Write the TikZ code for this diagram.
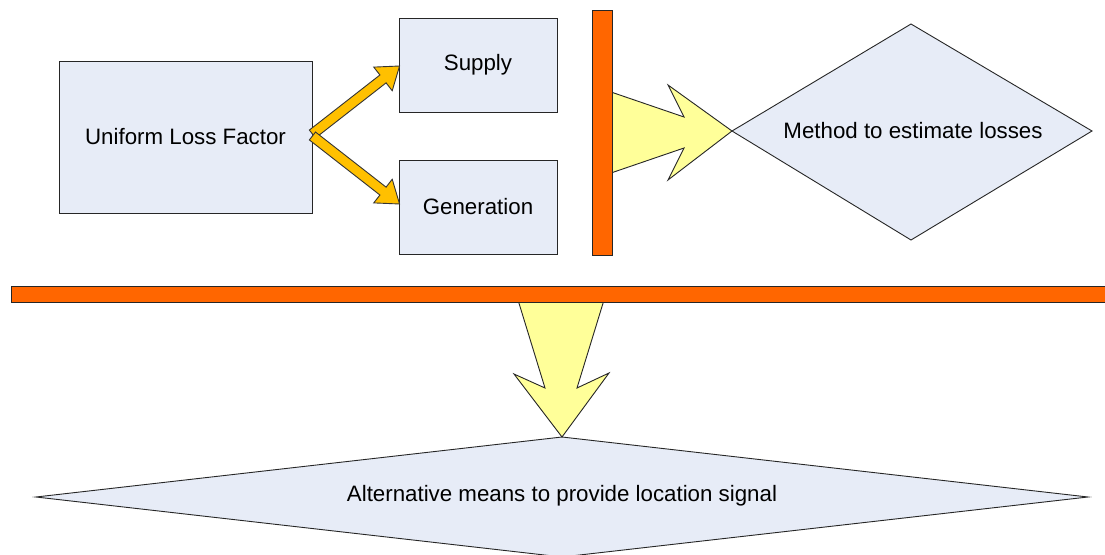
\documentclass[tikz,border=0pt]{standalone}
\usepackage{fontspec}
\setmainfont{Liberation Sans}
\usetikzlibrary{calc}
\definecolor{boxfill}{RGB}{231,236,247}
\definecolor{barorange}{RGB}{255,102,0}
\definecolor{lightyellow}{RGB}{255,255,153}
\definecolor{goldarrow}{RGB}{255,192,0}
\tikzset{
  box/.style={draw=black!85, line width=0.9pt, fill=boxfill, inner sep=0pt, font=\fontsize{22.3}{26}\selectfont},
  bar/.style={draw=black!85, line width=0.9pt, fill=barorange, inner sep=0pt},
  bigarrow/.style={draw=black!85, line width=0.9pt, fill=lightyellow, line join=miter},
  smallarrow/.style={draw=black!80, line width=0.9pt, fill=goldarrow, line join=miter},
  lbl/.style={font=\fontsize{22.3}{26}\selectfont, inner sep=0pt},
}
\newcommand{\fatarrow}[5]{%
  \coordinate (fatH) at ($(#2)!#5!(#1)$);
  \path[smallarrow] ($(#1)!#3!90:(#2)$) -- ($(fatH)!#3!90:(#2)$) -- ($(fatH)!#4!90:(#2)$)
    -- (#2) -- ($(fatH)!#4!-90:(#2)$) -- ($(fatH)!#3!-90:(#2)$) -- ($(#1)!#3!-90:(#2)$) -- cycle;
}
\begin{document}
\begin{tikzpicture}[x=1pt,y=-1pt]
\clip (0,0) rectangle (1105,554);
\fill[white] (0,0) rectangle (1105,554);

% boxes
\node[box, minimum width=253pt, minimum height=152pt] (ulf) at (185.5,137) {Uniform Loss Factor};
\node[box, minimum width=158pt, minimum height=94pt] (supply) at (478,65) {\raisebox{-2pt}{Supply}};
\node[box, minimum width=158pt, minimum height=94pt] (generation) at (478,207) {Generation};

% method diamond
\coordinate (mL) at (732,131);
\coordinate (mT) at (911,24);
\coordinate (mR) at (1092,131);
\coordinate (mB) at (911,240);
\draw[box] (mL) -- (mT) -- (mR) -- (mB) -- cycle;
\node[lbl] (method) at (913,131) {Method to estimate losses};

% bottom diamond
\coordinate (aL) at (36,497);
\coordinate (aT) at (562,437);
\coordinate (aR) at (1088,497);
\coordinate (aB) at (562,557);
\draw[box] (aL) -- (aT) -- (aR) -- (aB) -- cycle;
\node[lbl] (alt) at (562,496) {Alternative means to provide location signal};

% bar anchors
\coordinate (vbarE) at (613,132.5);
\coordinate (hbar) at (561,302);

% big right arrow
\draw[bigarrow] ($(vbarE)+(-2,-40.5)$) -- (684,117) -- (668,85) -- (mL) -- (668,180) -- (684,148) -- ($(vbarE)+(-2,40.5)$);

% big down arrow
\draw[bigarrow] ($(hbar)+(-43,-2)$) -- (545,388) -- (514,374) -- (aT) -- (609,373) -- (577,388) -- ($(hbar)+(43,-2)$);

% bars (on top of arrows)
\node[bar, minimum width=20pt, minimum height=245pt, anchor=east] (vbar) at (vbarE) {};
\fill[barorange] (11,286) rectangle (1106,302);
\draw[black!85, line width=0.9pt] (1106,286) -- (11,286) -- (11,302) -- (1106,302);

% small gold arrows
\coordinate (ulfU) at ($(ulf.east)+(0,-3)$);
\coordinate (ulfD) at ($(ulf.east)+(0,-1)$);
\coordinate (supT) at ($(supply.west)+(1,1)$);
\coordinate (genT) at ($(generation.west)+(1,-3)$);
\fatarrow{ulfU}{supT}{5pt}{15pt}{21pt}
\fatarrow{ulfD}{genT}{5pt}{15pt}{21pt}
\end{tikzpicture}
\end{document}
